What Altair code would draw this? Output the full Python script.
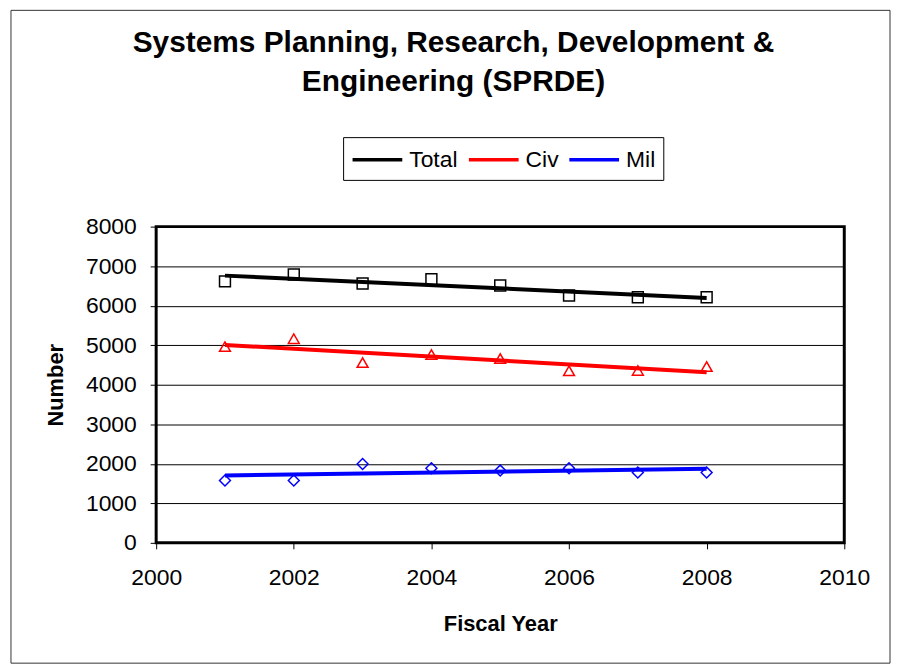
import altair as alt
import pandas as pd

# ---- data ----
years = [2001, 2002, 2003, 2004, 2005, 2006, 2007, 2008]
total = [6616, 6790, 6560, 6667, 6510, 6256, 6214, 6214]
civ = [4964, 5165, 4561, 4763, 4662, 4352, 4360, 4460]
mil = [1577, 1577, 1995, 1887, 1828, 1887, 1778, 1778]

series_names = ["Total", "Civ", "Mil"]
series_colors = ["#000000", "#FF0000", "#0000FF"]
series_shapes = ["square", "triangle-up", "diamond"]

x_ticks = [2000, 2002, 2004, 2006, 2008, 2010]
y_ticks = [0, 1000, 2000, 3000, 4000, 5000, 6000, 7000, 8000]

title_lines = ["Systems Planning, Research, Development &", "Engineering (SPRDE)"]

rows = []
for name, vals in zip(series_names, [total, civ, mil]):
    for yr, v in zip(years, vals):
        rows.append({"year": yr, "value": v, "series": name})
df = pd.DataFrame(rows)

FONT = "Liberation Sans"

x_enc = alt.X(
    "year:Q",
    scale=alt.Scale(domain=[2000, 2010], nice=False, zero=False),
    axis=alt.Axis(values=x_ticks, format="d", title="Fiscal Year", grid=False,
                  labelFlush=False, labelPadding=18, titlePadding=24),
)
y_enc = alt.Y(
    "value:Q",
    scale=alt.Scale(domain=[0, 8000], nice=False),
    axis=alt.Axis(values=y_ticks, format="d", title="Number", grid=True,
                  labelFlush=False, labelPadding=14, titlePadding=18),
)

lines = (
    alt.Chart(df)
    .transform_regression("year", "value", groupby=["series"])
    .mark_line(strokeWidth=4)
    .encode(
        x=x_enc,
        y=y_enc,
        color=alt.Color(
            "series:N",
            scale=alt.Scale(domain=series_names, range=series_colors),
            sort=series_names,
            legend=alt.Legend(
                title=None,
                orient="none",
                legendX=188,
                legendY=-90,
                direction="horizontal",
                symbolType="M-1.04,0H2.96",
                symbolSize=625,
                symbolStrokeWidth=3.5,
                labelFont=FONT,
                labelFontSize=23,
                labelColor="black",
                labelOffset=29.5,
                columnPadding=3,
                padding=8,
                strokeColor="black",
                fillColor="white",
            ),
        ),
    )
)

point_layers = []
for name, col, shp in zip(series_names, series_colors, series_shapes):
    point_layers.append(
        alt.Chart(df)
        .transform_filter(alt.datum.series == name)
        .mark_point(shape=shp, color=col, filled=False, size=120, strokeWidth=1.5, opacity=1)
        .encode(x=x_enc, y=y_enc)
    )

frame = (
    alt.Chart(pd.DataFrame({"k": [0]}))
    .mark_rect(fillOpacity=0, stroke="#333333", strokeWidth=1)
    .encode(x=alt.value(-146), x2=alt.value(738), y=alt.value(-217.5), y2=alt.value(439))
)

chart = (
    alt.layer(frame, lines, *point_layers)
    .properties(
        width=692,
        height=318,
        background="white",
        autosize=alt.AutoSizeParams(type="none"),
        padding={"left": 149, "top": 218, "right": 48, "bottom": 122},
        title=alt.TitleParams(
            text=title_lines,
            font=FONT,
            fontSize=30,
            fontWeight="bold",
            color="black",
            anchor="middle",
            dx=-47,
            lineHeight=40,
            baseline="bottom",
            offset=-118,
        ),
    )
    .configure_view(stroke="black", strokeWidth=3)
    .configure_axis(
        labelFont=FONT,
        titleFont=FONT,
        labelFontSize=23,
        titleFontSize=22,
        titleFontWeight="bold",
        labelColor="black",
        titleColor="black",
        tickColor="black",
        tickSize=6,
        gridColor="black",
        gridWidth=1,
        gridOpacity=1,
        domain=False,
    )
)

chart.save("out.html", embed_options={"renderer": "svg", "actions": False})
